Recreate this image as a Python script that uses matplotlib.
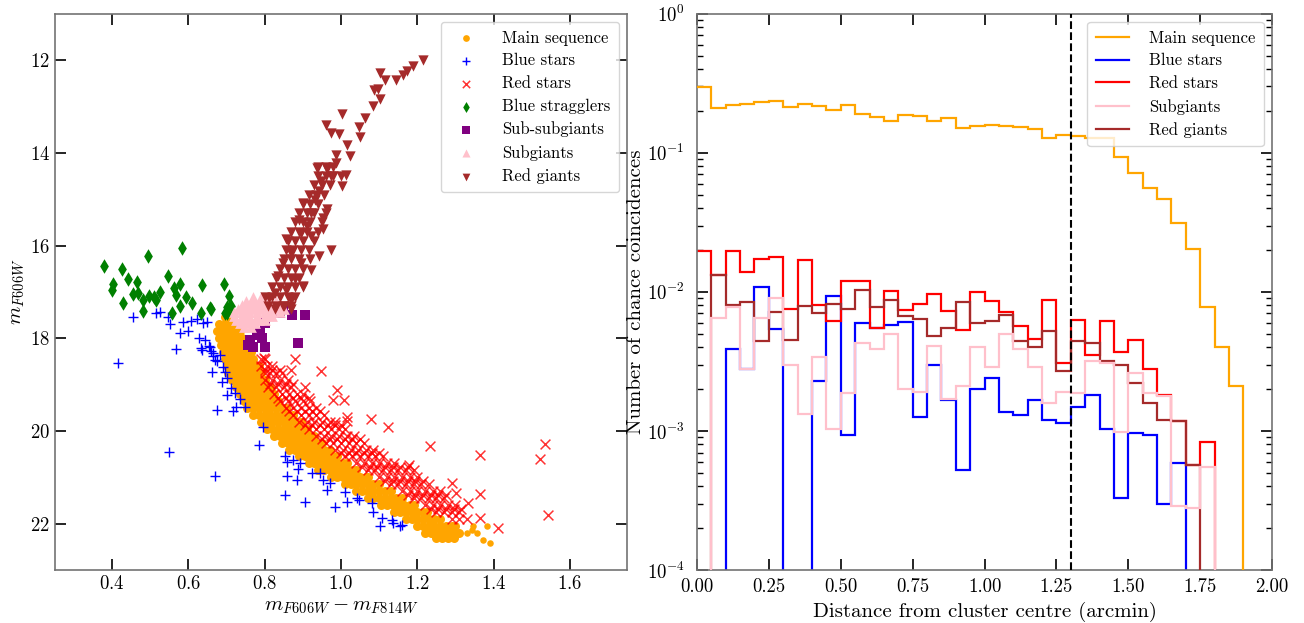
import numpy as np
import matplotlib
matplotlib.use("Agg")
import matplotlib.pyplot as plt
from matplotlib.lines import Line2D

plt.rcParams['font.family'] = 'serif'
plt.rcParams['font.serif'] = ['cmr10', 'DejaVu Serif']
plt.rcParams['mathtext.fontset'] = 'cm'
plt.rcParams['axes.formatter.use_mathtext'] = True
plt.rcParams['axes.unicode_minus'] = False

# ---------------- Left panel data (colour, magnitude) ----------------
ms_rows = [
    (17.55, [0.695, 0.71]),
    (17.7, [0.68, 0.695, 0.71, 0.725]),
    (17.85, [0.675, 0.69, 0.705, 0.72, 0.735]),
    (18.0, [0.68, 0.695, 0.71, 0.725, 0.74]),
    (18.15, [0.685, 0.70, 0.715, 0.73, 0.745, 0.755]),
    (18.3, [0.69, 0.705, 0.72, 0.735, 0.75, 0.765]),
    (18.45, [0.695, 0.71, 0.725, 0.74, 0.755, 0.77]),
    (18.6, [0.70, 0.715, 0.73, 0.745, 0.76, 0.775, 0.785]),
    (18.75, [0.705, 0.72, 0.735, 0.75, 0.765, 0.78, 0.79]),
    (18.9, [0.715, 0.73, 0.745, 0.76, 0.775, 0.79, 0.80]),
    (19.05, [0.725, 0.74, 0.755, 0.77, 0.785, 0.80, 0.815]),
    (19.2, [0.735, 0.75, 0.765, 0.78, 0.795, 0.81, 0.825]),
    (19.35, [0.745, 0.76, 0.775, 0.79, 0.805, 0.82, 0.835]),
    (19.5, [0.755, 0.77, 0.785, 0.80, 0.815, 0.83, 0.845, 0.855]),
    (19.65, [0.77, 0.785, 0.80, 0.815, 0.83, 0.845, 0.86, 0.875]),
    (19.8, [0.79, 0.805, 0.82, 0.835, 0.85, 0.865, 0.88, 0.895]),
    (19.95, [0.805, 0.82, 0.835, 0.85, 0.865, 0.88, 0.895, 0.91]),
    (20.1, [0.825, 0.84, 0.855, 0.87, 0.885, 0.90, 0.915, 0.93]),
    (20.25, [0.845, 0.86, 0.875, 0.89, 0.905, 0.92, 0.935, 0.95]),
    (20.4, [0.865, 0.88, 0.895, 0.91, 0.925, 0.94, 0.955, 0.97]),
    (20.55, [0.89, 0.905, 0.92, 0.935, 0.95, 0.965, 0.98, 0.99]),
    (20.7, [0.915, 0.93, 0.945, 0.96, 0.975, 0.99, 1.005, 1.015]),
    (20.85, [0.94, 0.955, 0.97, 0.985, 1.0, 1.015, 1.03, 1.04]),
    (21.0, [0.975, 0.99, 1.005, 1.02, 1.035, 1.05, 1.065, 1.07]),
    (21.15, [1.01, 1.025, 1.04, 1.055, 1.07, 1.085, 1.10]),
    (21.3, [1.04, 1.055, 1.07, 1.085, 1.10, 1.115, 1.13]),
    (21.45, [1.07, 1.085, 1.10, 1.115, 1.13, 1.145, 1.16]),
    (21.6, [1.105, 1.12, 1.135, 1.15, 1.165, 1.18, 1.19]),
    (21.75, [1.14, 1.155, 1.17, 1.185, 1.20, 1.215, 1.225]),
    (21.9, [1.17, 1.185, 1.20, 1.215, 1.23, 1.245, 1.26]),
    (22.05, [1.20, 1.215, 1.23, 1.245, 1.26, 1.275, 1.29, 1.30]),
    (22.2, [1.22, 1.235, 1.25, 1.265, 1.28, 1.295, 1.31]),
    (22.3, [1.25, 1.265, 1.28, 1.295]),
]
ms_extra_c = [1.347, 1.382, 1.356, 1.373, 1.391, 1.33, 1.343]
ms_extra_m = [22.06, 22.06, 22.21, 22.35, 22.42, 22.21, 22.14]

red_rows = [
    (18.45, [0.79, 0.80]),
    (18.6, [0.79, 0.805, 0.82]),
    (18.68, [0.80, 0.82, 0.84]),
    (18.75, [0.80, 0.815, 0.83, 0.845]),
    (18.9, [0.80, 0.82, 0.84, 0.86]),
    (18.98, [0.815, 0.835, 0.855, 0.875]),
    (19.05, [0.81, 0.83, 0.85, 0.87]),
    (19.2, [0.825, 0.845, 0.865, 0.885, 0.90]),
    (19.28, [0.835, 0.855, 0.875, 0.895, 0.915]),
    (19.35, [0.84, 0.86, 0.88, 0.90, 0.92]),
    (19.5, [0.855, 0.875, 0.895, 0.915, 0.935]),
    (19.58, [0.865, 0.885, 0.905, 0.925, 0.945]),
    (19.65, [0.875, 0.895, 0.915, 0.935, 0.955]),
    (19.8, [0.89, 0.91, 0.93, 0.95, 0.97, 0.985]),
    (19.88, [0.905, 0.925, 0.945, 0.965, 0.985, 1.0]),
    (19.95, [0.915, 0.935, 0.955, 0.975, 0.995, 1.01]),
    (20.1, [0.935, 0.955, 0.975, 0.995, 1.015, 1.035]),
    (20.18, [0.95, 0.97, 0.99, 1.01, 1.03, 1.05]),
    (20.25, [0.96, 0.98, 1.0, 1.02, 1.04, 1.06]),
    (20.4, [0.985, 1.005, 1.025, 1.045, 1.065, 1.085]),
    (20.48, [1.0, 1.02, 1.04, 1.06, 1.08, 1.10]),
    (20.55, [1.01, 1.03, 1.05, 1.07, 1.09, 1.11]),
    (20.7, [1.04, 1.06, 1.08, 1.10, 1.12, 1.14]),
    (20.78, [1.055, 1.075, 1.095, 1.115, 1.135, 1.155, 1.175]),
    (20.85, [1.07, 1.09, 1.11, 1.13, 1.15, 1.17, 1.19]),
    (21.0, [1.10, 1.12, 1.14, 1.16, 1.18, 1.20]),
    (21.08, [1.115, 1.135, 1.155, 1.175, 1.195, 1.215]),
    (21.15, [1.13, 1.15, 1.17, 1.19, 1.21, 1.23]),
    (21.3, [1.16, 1.18, 1.20, 1.22, 1.24, 1.26]),
    (21.38, [1.175, 1.195, 1.215, 1.235, 1.255, 1.275]),
    (21.45, [1.19, 1.21, 1.23, 1.25, 1.27]),
    (21.6, [1.22, 1.24, 1.26, 1.28, 1.30]),
    (21.68, [1.235, 1.255, 1.275, 1.295, 1.315]),
    (21.75, [1.25, 1.27, 1.29, 1.31]),
    (21.9, [1.29, 1.31, 1.33]),
]
red_extra_c = [0.880, 0.868, 0.947, 0.906, 0.989, 0.978, 1.008, 1.015, 1.015, 1.078,
               1.124, 1.232, 1.363, 1.179, 1.292, 1.302, 1.363, 1.334, 1.363, 1.411,
               1.535, 1.521, 1.543, 0.798]
red_extra_m = [18.45, 18.68, 18.70, 19.06, 19.12, 19.33, 19.33, 19.69, 19.78, 19.75,
               19.91, 20.32, 20.52, 20.73, 21.13, 21.33, 21.35, 21.56, 21.88, 22.09,
               20.29, 20.60, 21.82, 18.42]

blue_c = [0.639, 0.643, 0.635, 0.657, 0.665, 0.670, 0.661, 0.683, 0.691, 0.696,
          0.700, 0.687, 0.713, 0.700, 0.722, 0.735, 0.726, 0.718, 0.748, 0.674,
          0.796, 0.786, 0.670, 0.853, 0.858, 0.875, 0.893, 0.888, 0.858, 0.884,
          0.853, 0.906, 0.923, 0.945, 0.954, 0.971, 0.963, 0.984, 1.011, 1.015,
          1.041, 1.046, 1.081, 1.085, 1.107, 1.102, 1.133, 1.137, 1.155, 1.159,
          0.456, 0.416, 0.515, 0.525, 0.547, 0.552, 0.568, 0.579, 0.585, 0.600,
          0.606, 0.622, 0.627, 0.633, 0.648, 0.549, 0.654, 0.659, 0.664, 0.675]
blue_m = [17.68, 18.04, 18.25, 18.18, 18.32, 18.47, 18.72, 18.36, 18.61, 18.72,
          18.86, 18.94, 19.08, 19.22, 19.19, 19.30, 19.48, 19.58, 19.48, 19.55,
          19.91, 20.30, 20.97, 20.55, 20.66, 20.63, 20.70, 20.81, 20.97, 21.06,
          21.38, 21.53, 20.91, 20.91, 21.06, 21.13, 21.27, 21.63, 21.31, 21.53,
          21.45, 21.49, 21.56, 21.74, 21.88, 22.06, 21.92, 21.99, 22.06, 22.03,
          17.55, 18.53, 17.46, 17.43, 17.55, 17.70, 18.24, 17.88, 17.66, 17.84,
          17.63, 17.59, 17.99, 18.20, 17.66, 20.45, 18.17, 18.27, 18.38, 18.49]

bss_c = [0.379, 0.402, 0.400, 0.426, 0.429, 0.442, 0.466, 0.468, 0.482, 0.493,
         0.498, 0.514, 0.482, 0.546, 0.562, 0.568, 0.578, 0.584, 0.578, 0.557,
         0.610, 0.636, 0.633, 0.660, 0.694, 0.707, 0.713, 0.702, 0.509, 0.455,
         0.696, 0.657, 0.700, 0.595, 0.527]
bss_m = [16.45, 16.84, 16.95, 16.50, 17.25, 16.72, 16.79, 17.02, 17.17, 16.23,
         17.09, 17.17, 17.42, 16.65, 16.91, 17.06, 16.84, 16.05, 17.31, 17.45,
         17.24, 16.86, 17.45, 17.37, 16.84, 17.09, 17.31, 17.45, 17.12, 17.05,
         17.46, 17.35, 17.32, 17.10, 17.00]

ssg_c = [0.840, 0.871, 0.906, 0.888, 0.801, 0.788, 0.761, 0.757, 0.770, 0.801,
         0.792, 0.779, 0.849]
ssg_m = [17.46, 17.50, 17.50, 18.11, 17.68, 17.86, 18.04, 18.14, 18.18, 18.18,
         17.99, 17.93, 17.35]

sg_rows = [
    (17.12, [0.77, 0.79]),
    (17.2, [0.75, 0.77, 0.79, 0.81, 0.83]),
    (17.28, [0.74, 0.76, 0.78, 0.80, 0.82, 0.84]),
    (17.36, [0.73, 0.75, 0.77, 0.79, 0.81, 0.83, 0.85]),
    (17.44, [0.72, 0.74, 0.76, 0.78, 0.80, 0.82, 0.84]),
    (17.52, [0.72, 0.74, 0.76, 0.78, 0.80, 0.82]),
    (17.6, [0.725, 0.745, 0.765, 0.785, 0.80]),
    (17.68, [0.735, 0.755, 0.775]),
    (17.76, [0.745, 0.765]),
]

rg_c = [1.216, 1.189, 1.173, 1.162, 1.144, 1.116, 1.103, 1.098, 1.087, 1.103,
        1.084, 1.064, 1.002, 1.048, 1.050, 0.962, 0.975, 0.996, 1.016, 1.023,
        0.986, 0.937, 0.964, 0.986, 1.012, 1.002, 0.948, 0.975, 0.943, 0.932,
        0.900, 0.964, 0.921, 0.954, 0.889, 0.911, 0.954, 0.895, 0.921, 0.857,
        0.975, 0.943, 0.868, 0.895, 0.847, 0.921, 0.836, 0.879, 0.857, 0.900,
        0.826, 0.868, 0.811, 0.847, 0.826, 0.868]
rg_m = [12.00, 12.13, 12.24, 12.33, 12.43, 12.43, 12.27, 12.62, 12.65, 12.85,
        12.99, 13.26, 13.17, 13.44, 13.65, 13.41, 13.57, 13.60, 13.84, 14.07,
        14.04, 14.32, 14.36, 14.22, 14.47, 14.72, 14.61, 14.50, 14.83, 15.01,
        15.08, 15.21, 15.29, 15.40, 15.44, 15.58, 15.65, 15.73, 15.80, 15.87,
        16.09, 16.23, 16.16, 16.37, 16.37, 16.52, 16.66, 16.73, 16.95, 16.88,
        17.02, 17.17, 17.13, 17.31, 17.38, 17.38]
rg_rows = [
    (17.3, [0.81, 0.83, 0.85, 0.87]),
    (17.1, [0.80, 0.82, 0.84, 0.86, 0.88]),
    (16.9, [0.82, 0.84, 0.86, 0.88, 0.90]),
    (16.7, [0.83, 0.85, 0.87, 0.89]),
    (16.5, [0.84, 0.86, 0.88, 0.90]),
    (16.3, [0.85, 0.87, 0.89, 0.92]),
    (16.1, [0.855, 0.875, 0.895, 0.915]),
    (15.9, [0.86, 0.88, 0.90, 0.93]),
    (15.7, [0.87, 0.89, 0.91, 0.94]),
    (15.5, [0.88, 0.90, 0.92, 0.95]),
    (15.3, [0.89, 0.91, 0.93, 0.96]),
    (15.1, [0.90, 0.92, 0.94]),
    (14.9, [0.915, 0.935, 0.955]),
    (14.7, [0.93, 0.95, 0.97]),
    (14.5, [0.94, 0.96, 0.98, 1.0]),
    (14.3, [0.94, 0.96, 0.98]),
]

# ---------------- Right panel data (histograms, 0.05 arcmin bins) ----------------
bin_edges = np.linspace(0.0, 2.0, 41)
main_seq_h = [0.298, 0.211, 0.220, 0.226, 0.233, 0.234, 0.214, 0.223, 0.218, 0.203,
              0.220, 0.190, 0.182, 0.170, 0.187, 0.185, 0.169, 0.178, 0.150, 0.156,
              0.158, 0.156, 0.152, 0.148, 0.128, 0.135, 0.132, 0.127, 0.128, 0.0936,
              0.071, 0.0554, 0.0469, 0.0315, 0.0205, 0.0078, 0.0040, 0.0021, 0, 0]
blue_h = [0, 0, 0.0039, 0.0028, 0.0109, 0.0054, 0, 0, 0.0023, 0.0093,
          0.00094, 0.0060, 0.0055, 0.0058, 0.0061, 0.00127, 0.0030, 0.00167, 0.00052, 0.0020,
          0.0024, 0.00136, 0.0013, 0.00167, 0.00119, 0.00115, 0.00148, 0.0018, 0.00103, 0.00033,
          0.00097, 0.00093, 0.0003, 0.00059, 0, 0, 0, 0, 0, 0]
red_h = [0.0196, 0.0132, 0.0196, 0.0139, 0.0173, 0.0178, 0.0075, 0.0169, 0.0081, 0.0062,
         0.0120, 0.0119, 0.0055, 0.0101, 0.0074, 0.0082, 0.0096, 0.0073, 0.0053, 0.0100,
         0.0086, 0.0072, 0.0057, 0.0046, 0.0088, 0.0031, 0.0063, 0.0035, 0.0062, 0.0037,
         0.0045, 0.0028, 0.0018, 0.00117, 0.00057, 0.00083, 0, 0, 0, 0]
subg_h = [0, 0.0065, 0.0078, 0.0028, 0.0065, 0.0090, 0.0030, 0.00132, 0.0034, 0.00103,
          0.00186, 0.0043, 0.0039, 0.0050, 0.0020, 0.0019, 0.0041, 0.0017, 0.0021, 0.0040,
          0.0029, 0.0050, 0.0039, 0.0029, 0.0016, 0.0019, 0.00186, 0.0032, 0.0031, 0.00099,
          0.0026, 0.00186, 0.00178, 0.00029, 0.00028, 0.00055, 0, 0, 0, 0]
redg_h = [0, 0.0132, 0.0080, 0.0084, 0.0044, 0.0072, 0.0045, 0.0079, 0.0070, 0.0082,
          0.0075, 0.0103, 0.0078, 0.0087, 0.0067, 0.0064, 0.0048, 0.0055, 0.0085, 0.0060,
          0.0062, 0.0068, 0.0044, 0.0040, 0.0052, 0.0027, 0.0044, 0.0043, 0.0032, 0.0030,
          0.0022, 0.0016, 0.0012, 0.00117, 0.00057, 0, 0, 0, 0, 0]
r_cut = 1.3


def flatten(rows):
    c, m = [], []
    for mag, cols in rows:
        for col in cols:
            c.append(col)
            m.append(mag)
    return c, m


fig = plt.figure(figsize=(13.04, 6.23), dpi=100)
ax1 = fig.add_axes([0.042, 0.085, 0.439, 0.893])
ax2 = fig.add_axes([0.5345, 0.085, 0.441, 0.893])

# ---- left: CMD ----
msc, msm = flatten(ms_rows)
ax1.scatter(msc, msm, s=42, marker='o', color='orange', linewidths=0,
            label='Main sequence')
ax1.scatter(ms_extra_c, ms_extra_m, s=22, marker='o', color='orange', linewidths=0)
ax1.scatter(blue_c, blue_m, s=50, marker='+', color='blue', linewidths=1.0,
            label='Blue stars')
rc, rm = flatten(red_rows)
ax1.scatter(rc + red_extra_c, rm + red_extra_m, s=50, marker='x', color='red',
            linewidths=1.1, alpha=0.8, label='Red stars')
ax1.scatter(bss_c, bss_m, s=55, marker='d', color='green', linewidths=0,
            label='Blue stragglers')
ax1.scatter(ssg_c, ssg_m, s=48, marker='s', color='purple', linewidths=0,
            label='Sub-subgiants')
sc, sm = flatten(sg_rows)
ax1.scatter(sc, sm, s=60, marker='^', color='pink', linewidths=0, label='Subgiants')
gc, gm = flatten(rg_rows)
ax1.scatter(rg_c + gc, rg_m + gm, s=55, marker='v', color='brown', linewidths=0,
            label='Red giants')

ax1.set_xlim(0.25, 1.75)
ax1.set_ylim(23.0, 11.0)
ax1.set_xticks([0.4, 0.6, 0.8, 1.0, 1.2, 1.4, 1.6])
ax1.set_yticks([12, 14, 16, 18, 20, 22])
ax1.set_xlabel(r'$m_{F606W} - m_{F814W}$', fontsize=15)
ax1.set_ylabel(r'$m_{F606W}$', fontsize=15, labelpad=2)
ax1.tick_params(direction='in', top=True, right=True, length=8, width=1.2,
                labelsize=13.5)
ax1.legend(loc='upper right', fontsize=12, scatterpoints=1, markerscale=0.75,
           borderpad=0.5, labelspacing=0.45, handletextpad=1.2)

# ---- right: chance coincidences ----
ax2.stairs(main_seq_h, bin_edges, baseline=None, color='orange', lw=1.6, zorder=5)
ax2.stairs(blue_h, bin_edges, baseline=None, color='blue', lw=1.6, zorder=1)
ax2.stairs(red_h, bin_edges, baseline=None, color='red', lw=1.6, zorder=2)
ax2.stairs(redg_h, bin_edges, baseline=None, color='brown', lw=1.6, zorder=3)
ax2.stairs(subg_h, bin_edges, baseline=None, color='pink', lw=1.6, zorder=4)
ax2.axvline(r_cut, color='black', ls='--', lw=1.5, zorder=6)
ax2.set_yscale('log')
ax2.set_xlim(0.0, 2.0)
ax2.set_ylim(1e-4, 1.0)
ax2.set_xticks([0.0, 0.25, 0.5, 0.75, 1.0, 1.25, 1.5, 1.75, 2.0])
ax2.set_xticklabels(['0.00', '0.25', '0.50', '0.75', '1.00', '1.25', '1.50', '1.75',
                     '2.00'])
ax2.set_xlabel('Distance from cluster centre (arcmin)', fontsize=15)
ax2.set_ylabel('Number of chance coincidences', fontsize=15, labelpad=1)
ax2.tick_params(which='major', direction='in', top=True, right=True, length=8,
                width=1.2, labelsize=13.5)
ax2.tick_params(axis='y', which='major', pad=9)
ax2.tick_params(axis='x', which='major', pad=6)
ax2.tick_params(which='minor', direction='in', top=True, right=True, length=4,
                width=1.0)
handles = [Line2D([], [], color='orange', lw=1.6),
           Line2D([], [], color='blue', lw=1.6),
           Line2D([], [], color='red', lw=1.6),
           Line2D([], [], color='pink', lw=1.6),
           Line2D([], [], color='brown', lw=1.6)]
labels = ['Main sequence', 'Blue stars', 'Red stars', 'Subgiants', 'Red giants']
ax2.legend(handles, labels, loc='upper right', fontsize=12, borderpad=0.5,
           labelspacing=0.45, handlelength=2.0, handletextpad=1.2)

for ax in (ax1, ax2):
    for sp in ax.spines.values():
        sp.set_color('0.45')
        sp.set_linewidth(1.2)

fig.savefig('out.png', dpi=100)
